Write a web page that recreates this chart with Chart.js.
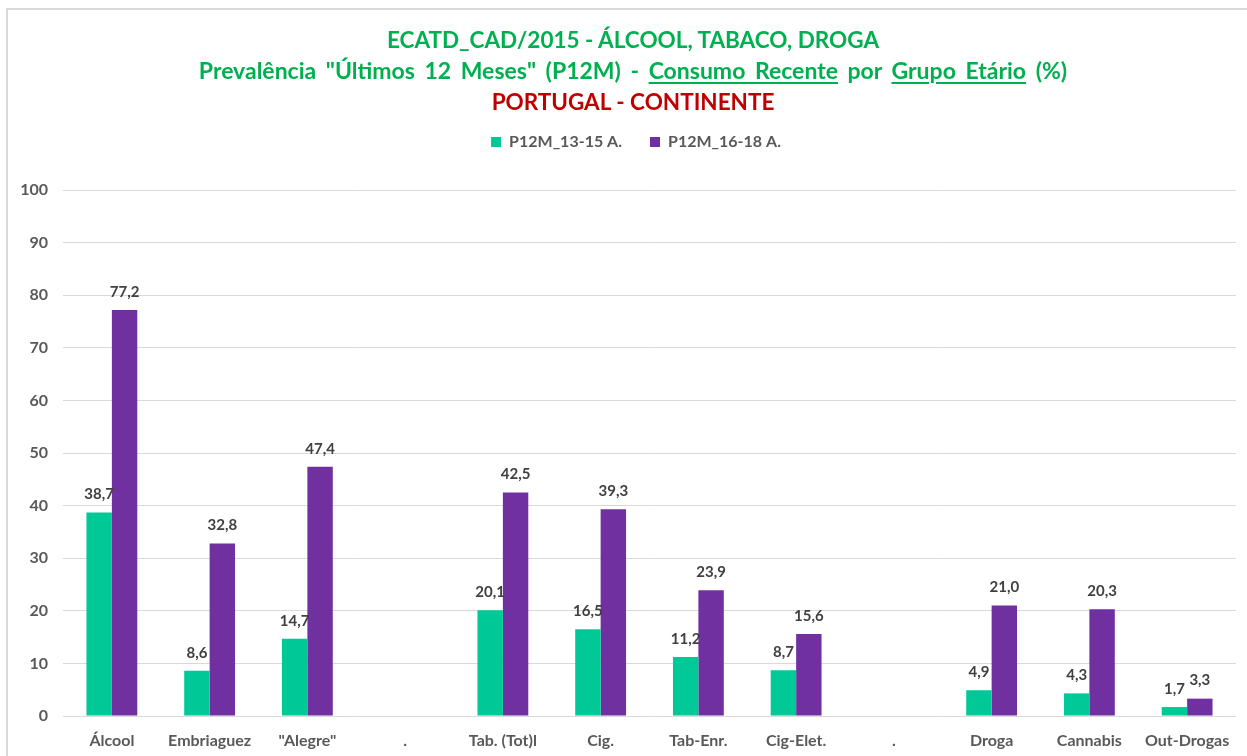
<!DOCTYPE html>
<html>
<head>
<meta charset="utf-8">
<script src="https://cdn.jsdelivr.net/npm/chart.js@4/dist/chart.umd.min.js"></script>
<style>
    html, body { margin: 0; padding: 0; background: #fff; }
    #wrap { position: relative; width: 1247px; height: 756px; overflow: hidden; }
    #frame { position: absolute; left: 6px; top: 8px; width: 1300px; height: 800px; border: 2px solid #d9d9d9; box-sizing: border-box; }
    #titles { position: absolute; left: 0; width: 1266px; top: 24px; text-align: center; font-family: Lato, sans-serif; font-weight: bold; }
    #titles div { font-size: 22.5px; line-height: 31px; color: #00B050; }
    #titles .sub { font-size: 23px; word-spacing: 4px; }
    #titles .red { color: #C00000; }
    #titles u { text-decoration-thickness: 2px; text-underline-offset: 3px; }
    canvas { position: absolute; left: 0; top: 0; }
</style>
</head>
<body>
<div id="wrap">
    <div id="frame"></div>
    <canvas id="chart" width="1247" height="756"></canvas>
    <div id="titles">
        <div>ECATD_CAD/2015 - ÁLCOOL, TABACO, DROGA</div>
        <div class="sub">Prevalência "Últimos 12 Meses" (P12M) - <u>Consumo Recente</u> por <u>Grupo Etário</u> (%)</div>
        <div class="red">PORTUGAL - CONTINENTE</div>
    </div>
</div>
<script>
// categories and values
const categories = ['Álcool', 'Embriaguez', '"Alegre"', '.', 'Tab. (Tot)l', 'Cig.', 'Tab-Enr.', 'Cig-Elet.', '.', 'Droga', 'Cannabis', 'Out-Drogas'];
const age13to15 = [38.7, 8.6, 14.7, null, 20.1, 16.5, 11.2, 8.7, null, 4.9, 4.3, 1.7];
const age16to18 = [77.2, 32.8, 47.4, null, 42.5, 39.3, 23.9, 15.6, null, 21.0, 20.3, 3.3];
const yTicks = [0, 10, 20, 30, 40, 50, 60, 70, 80, 90, 100];

const FONT = 'Lato, sans-serif';

// draws "38,7"-style labels above each bar
const barLabels = {
    id: 'barLabels',
    afterDatasetsDraw(chart) {
        const ctx = chart.ctx;
        ctx.save();
        ctx.font = 'bold 15px ' + FONT;
        ctx.fillStyle = '#404040';
        ctx.textAlign = 'center';
        ctx.textBaseline = 'middle';
        chart.data.datasets.forEach((ds, i) => {
            chart.getDatasetMeta(i).data.forEach((bar, j) => {
                const v = ds.data[j];
                if (v === null || v === undefined) return;
                ctx.fillText(v.toFixed(1).replace('.', ','), bar.x, bar.y - 18);
            });
        });
        ctx.restore();
    }
};

// extra space between the legend and the plot, legend nudged right
const legendGap = {
    id: 'legendGap',
    beforeInit(chart) {
        const fit = chart.legend.fit;
        chart.legend.fit = function () {
            fit.bind(chart.legend)();
            this.height += 30;
        };
    },
    afterLayout(chart) {
        chart.legend.left += 18;
        chart.legend.right += 18;
    }
};

new Chart(document.getElementById('chart'), {
    type: 'bar',
    data: {
        labels: categories,
        datasets: [
            { label: 'P12M_13-15 A.', data: age13to15, backgroundColor: '#00C896' },
            { label: 'P12M_16-18 A.', data: age16to18, backgroundColor: '#7030A0' }
        ]
    },
    options: {
        responsive: false,
        animation: false,
        layout: { padding: { top: 106, right: 11, bottom: 0, left: 0 } },
        datasets: { bar: { categoryPercentage: 0.52, barPercentage: 1.0 } },
        plugins: {
            legend: {
                labels: {
                    color: '#595959',
                    font: { family: FONT, size: 16, weight: 'bold' },
                    boxWidth: 10,
                    boxHeight: 10,
                    padding: 28
                }
            },
            tooltip: { enabled: false }
        },
        scales: {
            x: {
                afterFit: scale => { scale.height = 40; },
                grid: { display: false, drawTicks: false },
                border: { display: false },
                ticks: { color: '#595959', font: { family: FONT, size: 16, weight: 'bold' }, padding: 15, autoSkip: false, maxRotation: 0 }
            },
            y: {
                min: 0,
                max: 100,
                afterBuildTicks: scale => { scale.ticks = yTicks.map(v => ({ value: v })); },
                afterFit: scale => { scale.width = 63; },
                grid: { color: '#d9d9d9', drawTicks: false },
                border: { display: false },
                ticks: { color: '#595959', font: { family: FONT, size: 16, weight: 'bold' }, padding: 15 }
            }
        }
    },
    plugins: [barLabels, legendGap]
});
</script>
</body>
</html>
